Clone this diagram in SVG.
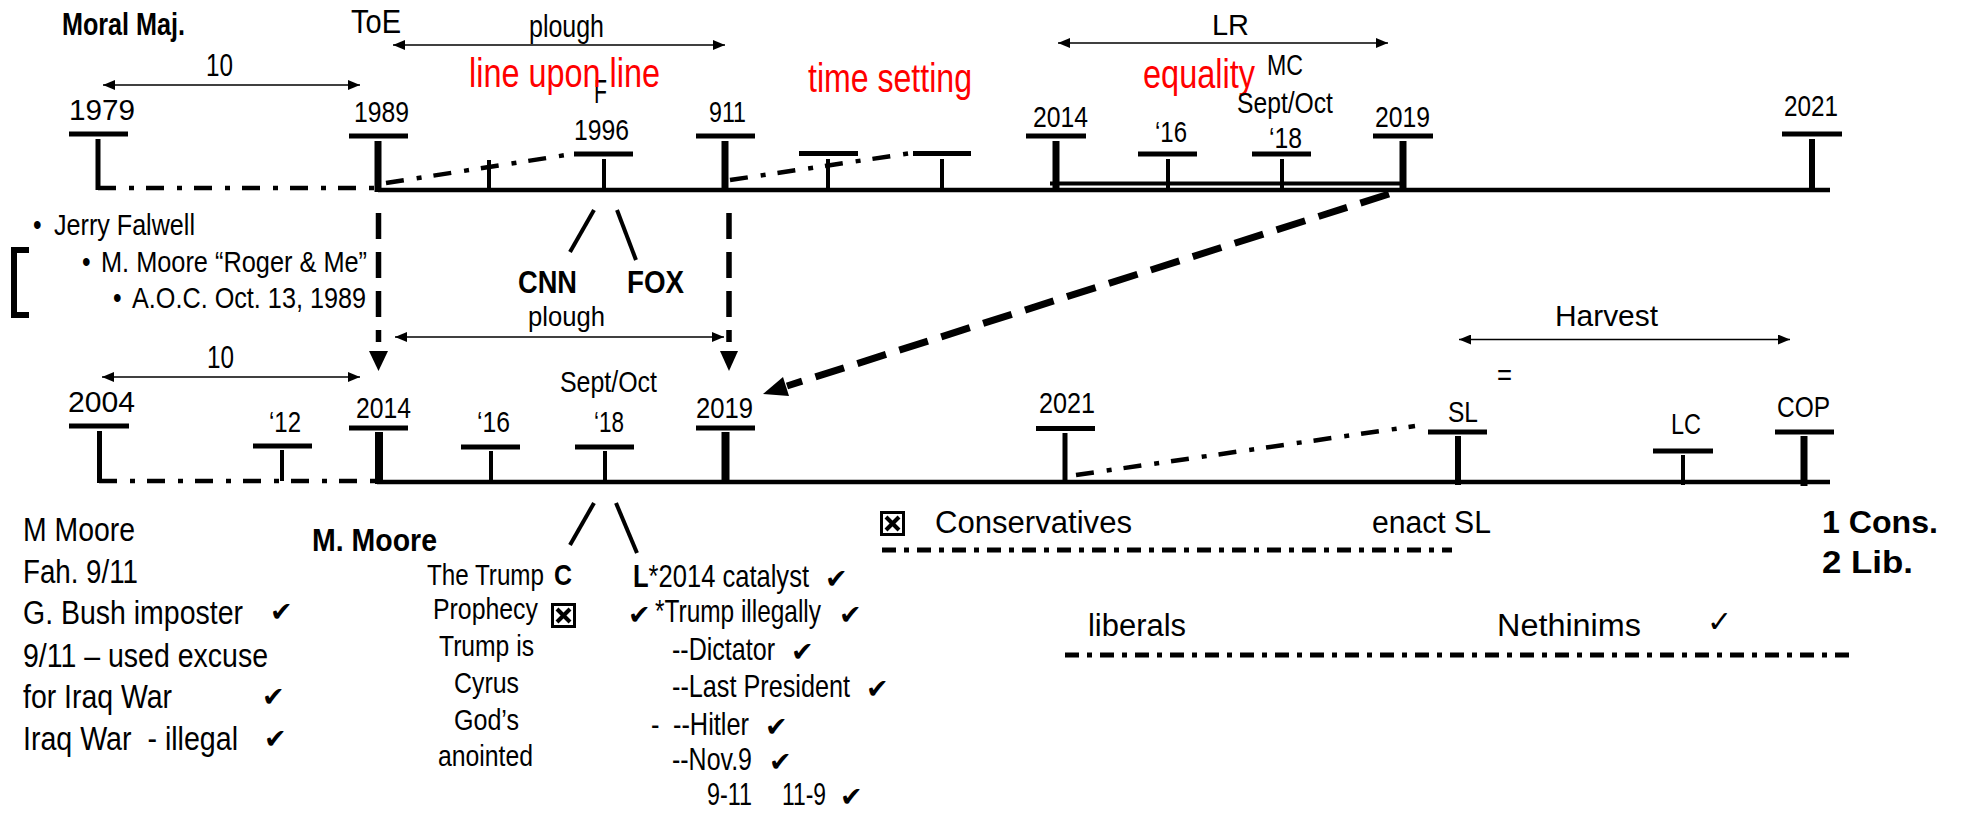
<svg xmlns="http://www.w3.org/2000/svg" width="1961" height="814" viewBox="0 0 1961 814">
<defs>
<style>
text{font-family:"Liberation Sans Narrow","Liberation Sans",Arial,sans-serif;fill:#000;font-size:24.6px}
.w{font-family:"Liberation Sans",Arial,sans-serif;font-size:30px}
.b{font-weight:bold}
.red{fill:#ff0000;font-size:32.8px}
.big{font-size:27.9px}
.lc{font-size:25.4px}
.bar{stroke:#000;stroke-width:5}
.v4{stroke:#000;stroke-width:4}
.v5{stroke:#000;stroke-width:5}
.v6{stroke:#000;stroke-width:6}
.v7{stroke:#000;stroke-width:7}
.v8{stroke:#000;stroke-width:8}
.tl{stroke:#000;stroke-width:4.5}
.dd{stroke:#000;stroke-width:4.5;stroke-dasharray:18 13 5 12;fill:none}
.dd2{stroke:#000;stroke-width:5;stroke-dasharray:14 8 5 8;fill:none}
.arr{stroke:#000;stroke-width:1.3;marker-start:url(#ah);marker-end:url(#ah)}
.dash{stroke:#000;stroke-width:5.5;stroke-dasharray:26 13}
.bd{stroke:#000;stroke-width:7;stroke-dasharray:30 14}
.sl{stroke:#000;stroke-width:4}
.chk{font-family:"DejaVu Sans",sans-serif;font-size:27px;font-weight:normal}
.xb{fill:none;stroke:#000;stroke-width:3}
.xx{stroke:#000;stroke-width:4}
</style>
<marker id="ah" viewBox="0 0 12 10" refX="12" refY="5" markerWidth="12" markerHeight="10" markerUnits="userSpaceOnUse" orient="auto-start-reverse"><path d="M0,0 L12,5 L0,10 z" fill="#000"/></marker>
</defs>
<rect width="1961" height="814" fill="#fff"/>

<g id="top-labels">
<text x="62" y="35" style="font-size:26.2px" class="b" transform="matrix(1 0 0 1.22 0 -7.7)" textLength="123" lengthAdjust="spacingAndGlyphs">Moral Maj.</text>
<text x="351" y="33" style="font-size:27.9px" transform="matrix(1 0 0 1.22 0 -7.26)" textLength="50" lengthAdjust="spacingAndGlyphs">ToE</text>
<text x="529" y="37" style="font-size:25.4px" transform="matrix(1 0 0 1.22 0 -8.14)" textLength="75" lengthAdjust="spacingAndGlyphs">plough</text>
<text x="206" y="76" style="font-size:25.4px" transform="matrix(1 0 0 1.22 0 -16.72)" textLength="27" lengthAdjust="spacingAndGlyphs">10</text>
<text x="1212" y="35" class="w" style="font-size:29px" textLength="37" lengthAdjust="spacingAndGlyphs">LR</text>
</g>

<g id="n1996">
<text x="594" y="103" style="font-size:27.9px" transform="matrix(1 0 0 1.22 0 -22.66)" textLength="13" lengthAdjust="spacingAndGlyphs">F</text>
<line class="bar" x1="574" y1="154" x2="633" y2="154"/>
<line class="v4" x1="604" y1="159" x2="604" y2="190"/>
<text x="574" y="140" transform="matrix(1 0 0 1.22 0 -30.8)" textLength="55" lengthAdjust="spacingAndGlyphs">1996</text>
</g>

<g id="red-labels">
<text x="469" y="87" class="red" transform="matrix(1 0 0 1.22 0 -19.14)" textLength="191" lengthAdjust="spacingAndGlyphs">line upon line</text>
<text x="808" y="92" class="red" transform="matrix(1 0 0 1.22 0 -20.24)" textLength="164" lengthAdjust="spacingAndGlyphs">time setting</text>
<text x="1143" y="88" class="red" transform="matrix(1 0 0 1.22 0 -19.36)" textLength="112" lengthAdjust="spacingAndGlyphs">equality</text>
</g>

<g id="n1979">
<line class="bar" x1="69" y1="134" x2="128" y2="134"/>
<line class="v5" x1="98" y1="139" x2="98" y2="190"/>
<text x="69" y="120" class="w" style="font-size:29px" textLength="66" lengthAdjust="spacingAndGlyphs">1979</text>
</g>
<g id="n1989">
<line class="bar" x1="349" y1="136" x2="408" y2="136"/>
<line class="v7" x1="378" y1="141" x2="378" y2="192"/>
<text x="354" y="122" transform="matrix(1 0 0 1.22 0 -26.84)" textLength="55" lengthAdjust="spacingAndGlyphs">1989</text>
</g>
<g id="tick1"><line class="v4" x1="489" y1="160" x2="489" y2="190"/></g>
<g id="n911">
<line class="bar" x1="696" y1="136" x2="755" y2="136"/>
<line class="v7" x1="725" y1="141" x2="725" y2="190"/>
<text x="709" y="122" transform="matrix(1 0 0 1.22 0 -26.84)" textLength="37" lengthAdjust="spacingAndGlyphs">911</text>
</g>
<g id="nA">
<line class="bar" x1="799" y1="153.5" x2="858" y2="153.5"/>
<line class="v4" x1="828" y1="159" x2="828" y2="190"/>
</g>
<g id="nB">
<line class="bar" x1="913" y1="153.5" x2="971" y2="153.5"/>
<line class="v4" x1="942" y1="159" x2="942" y2="190"/>
</g>
<g id="n2014t">
<line class="bar" x1="1026" y1="136" x2="1086" y2="136"/>
<line class="v7" x1="1056" y1="141" x2="1056" y2="190"/>
<text x="1033" y="127" transform="matrix(1 0 0 1.22 0 -27.94)" textLength="55" lengthAdjust="spacingAndGlyphs">2014</text>
</g>
<g id="n16t">
<line class="bar" x1="1138" y1="154" x2="1197" y2="154"/>
<line class="v4" x1="1168" y1="159" x2="1168" y2="190"/>
<text x="1155" y="142" transform="matrix(1 0 0 1.22 0 -31.24)" textLength="32" lengthAdjust="spacingAndGlyphs">‘16</text>
</g>
<g id="n18t">
<line class="bar" x1="1252" y1="154" x2="1311" y2="154"/>
<line class="v4" x1="1282" y1="159" x2="1282" y2="190"/>
<text x="1269" y="148" transform="matrix(1 0 0 1.22 0 -32.56)" textLength="33" lengthAdjust="spacingAndGlyphs">‘18</text>
<text x="1237" y="113" transform="matrix(1 0 0 1.22 0 -24.86)" textLength="96" lengthAdjust="spacingAndGlyphs">Sept/Oct</text>
<text x="1267" y="75" transform="matrix(1 0 0 1.22 0 -16.5)" textLength="36" lengthAdjust="spacingAndGlyphs">MC</text>
</g>
<g id="n2019t">
<line class="bar" x1="1373" y1="136" x2="1433" y2="136"/>
<line class="v7" x1="1403" y1="141" x2="1403" y2="190"/>
<text x="1375" y="127" transform="matrix(1 0 0 1.22 0 -27.94)" textLength="55" lengthAdjust="spacingAndGlyphs">2019</text>
</g>
<g id="n2021t">
<line class="bar" x1="1782" y1="134" x2="1842" y2="134"/>
<line class="v6" x1="1812" y1="139" x2="1812" y2="190"/>
<text x="1784" y="116" transform="matrix(1 0 0 1.22 0 -25.52)" textLength="54" lengthAdjust="spacingAndGlyphs">2021</text>
</g>

<g id="bullets">
<text x="33" y="235" transform="matrix(1 0 0 1.22 0 -51.7)">•</text>
<text x="54" y="235" transform="matrix(1 0 0 1.22 0 -51.7)" textLength="141" lengthAdjust="spacingAndGlyphs">Jerry Falwell</text>
<text x="82" y="272" transform="matrix(1 0 0 1.22 0 -59.84)">•</text>
<text x="101" y="272" transform="matrix(1 0 0 1.22 0 -59.84)" textLength="266" lengthAdjust="spacingAndGlyphs">M. Moore “Roger &amp; Me”</text>
<text x="113" y="308" transform="matrix(1 0 0 1.22 0 -67.76)">•</text>
<text x="132" y="308" transform="matrix(1 0 0 1.22 0 -67.76)" textLength="234" lengthAdjust="spacingAndGlyphs">A.O.C. Oct. 13, 1989</text>
<path d="M29,250 L14,250 L14,315 L29,315" fill="none" stroke="#000" stroke-width="6"/>
</g>

<g id="media">
<text x="518" y="293" style="font-size:26.2px" class="b" transform="matrix(1 0 0 1.22 0 -64.46)" textLength="59" lengthAdjust="spacingAndGlyphs">CNN</text>
<text x="627" y="293" style="font-size:26.2px" class="b" transform="matrix(1 0 0 1.22 0 -64.46)" textLength="57" lengthAdjust="spacingAndGlyphs">FOX</text>
</g>

<g id="mid-labels">
<text x="528" y="326" style="font-size:23.4px" transform="matrix(1 0 0 1.22 0 -71.72)" textLength="77" lengthAdjust="spacingAndGlyphs">plough</text>
<text x="207" y="368" style="font-size:25.4px" transform="matrix(1 0 0 1.22 0 -80.96)" textLength="27" lengthAdjust="spacingAndGlyphs">10</text>
<text x="1555" y="326" class="w" style="font-size:29px" textLength="103" lengthAdjust="spacingAndGlyphs">Harvest</text>
<text x="1497" y="385" transform="matrix(1 0 0 1.22 0 -84.7)" textLength="15" lengthAdjust="spacingAndGlyphs">=</text>
</g>

<g id="n2004">
<line class="bar" x1="69" y1="426" x2="129" y2="426"/>
<line class="v5" x1="99.5" y1="431" x2="99.5" y2="483"/>
<text x="68" y="412" class="w" style="font-size:29px" textLength="67" lengthAdjust="spacingAndGlyphs">2004</text>
</g>
<g id="n12">
<line class="bar" x1="253" y1="446" x2="312" y2="446"/>
<line class="v4" x1="282" y1="450" x2="282" y2="481"/>
<text x="269" y="432" transform="matrix(1 0 0 1.22 0 -95.04)" textLength="32" lengthAdjust="spacingAndGlyphs">‘12</text>
</g>
<g id="n2014b">
<line class="bar" x1="349" y1="428" x2="408" y2="428"/>
<line class="v8" x1="379" y1="432" x2="379" y2="484"/>
<text x="356" y="418" transform="matrix(1 0 0 1.22 0 -91.96)" textLength="55" lengthAdjust="spacingAndGlyphs">2014</text>
</g>
<g id="n16b">
<line class="bar" x1="461" y1="447" x2="520" y2="447"/>
<line class="v4" x1="491" y1="451" x2="491" y2="482"/>
<text x="477" y="432" transform="matrix(1 0 0 1.22 0 -95.04)" textLength="33" lengthAdjust="spacingAndGlyphs">‘16</text>
</g>
<g id="n18b">
<line class="bar" x1="575" y1="447" x2="634" y2="447"/>
<line class="v4" x1="605" y1="451" x2="605" y2="482"/>
<text x="594" y="432" transform="matrix(1 0 0 1.22 0 -95.04)" textLength="30" lengthAdjust="spacingAndGlyphs">‘18</text>
<text x="560" y="392" transform="matrix(1 0 0 1.22 0 -86.24)" textLength="97" lengthAdjust="spacingAndGlyphs">Sept/Oct</text>
</g>
<g id="n2019b">
<line class="bar" x1="696" y1="428" x2="755" y2="428"/>
<line class="v8" x1="725.5" y1="432" x2="725.5" y2="484"/>
<text x="696" y="418" transform="matrix(1 0 0 1.22 0 -91.96)" textLength="57" lengthAdjust="spacingAndGlyphs">2019</text>
</g>
<g id="n2021b">
<line class="bar" x1="1036" y1="428.5" x2="1095" y2="428.5"/>
<line class="v5" x1="1065" y1="433" x2="1065" y2="482"/>
<text x="1039" y="413" transform="matrix(1 0 0 1.22 0 -90.86)" textLength="56" lengthAdjust="spacingAndGlyphs">2021</text>
</g>
<g id="nSL">
<line class="bar" x1="1428" y1="432" x2="1487" y2="432"/>
<line class="v6" x1="1458" y1="436" x2="1458" y2="485"/>
<text x="1448" y="422" transform="matrix(1 0 0 1.22 0 -92.84)" textLength="30" lengthAdjust="spacingAndGlyphs">SL</text>
</g>
<g id="nLC">
<line class="bar" x1="1653" y1="451" x2="1713" y2="451"/>
<line class="v4" x1="1683" y1="455" x2="1683" y2="485"/>
<text x="1671" y="434" transform="matrix(1 0 0 1.22 0 -95.48)" textLength="30" lengthAdjust="spacingAndGlyphs">LC</text>
</g>
<g id="nCOP">
<line class="bar" x1="1775" y1="432" x2="1834" y2="432"/>
<line class="v7" x1="1804" y1="436" x2="1804" y2="486"/>
<text x="1777" y="417" transform="matrix(1 0 0 1.22 0 -91.74)" textLength="53" lengthAdjust="spacingAndGlyphs">COP</text>
</g>

<g id="left-notes">
<text x="23" y="541" class="big" transform="matrix(1 0 0 1.22 0 -119.02)" textLength="112" lengthAdjust="spacingAndGlyphs">M Moore</text>
<text x="23" y="583" class="big" transform="matrix(1 0 0 1.22 0 -128.26)" textLength="115" lengthAdjust="spacingAndGlyphs">Fah. 9/11</text>
<text x="23" y="624" class="big" transform="matrix(1 0 0 1.22 0 -137.28)" textLength="220" lengthAdjust="spacingAndGlyphs">G. Bush imposter</text>
<text x="23" y="667" class="big" transform="matrix(1 0 0 1.22 0 -146.74)" textLength="245" lengthAdjust="spacingAndGlyphs">9/11 – used excuse</text>
<text x="23" y="708" class="big" transform="matrix(1 0 0 1.22 0 -155.76)" textLength="149" lengthAdjust="spacingAndGlyphs">for Iraq War</text>
<text x="23" y="750" class="big" xml:space="preserve" transform="matrix(1 0 0 1.22 0 -165)" textLength="215" lengthAdjust="spacingAndGlyphs">Iraq War  - illegal</text>
<text x="270" y="621" class="chk">✔</text>
<text x="262" y="706" class="chk">✔</text>
<text x="264" y="748" class="chk">✔</text>
</g>

<g id="mmoore">
<text x="312" y="551" style="font-size:26.2px" class="b" transform="matrix(1 0 0 1.22 0 -121.22)" textLength="125" lengthAdjust="spacingAndGlyphs">M. Moore</text>
</g>

<g id="c-column">
<text x="427" y="585" transform="matrix(1 0 0 1.22 0 -128.7)" textLength="117" lengthAdjust="spacingAndGlyphs">The Trump</text>
<text x="554" y="585" class="b" transform="matrix(1 0 0 1.22 0 -128.7)" textLength="18" lengthAdjust="spacingAndGlyphs">C</text>
<text x="433" y="619" transform="matrix(1 0 0 1.22 0 -136.18)" textLength="105" lengthAdjust="spacingAndGlyphs">Prophecy</text>
<rect class="xb" x="552.5" y="604.5" width="22" height="22"/>
<line class="xx" x1="557" y1="609" x2="570" y2="622"/>
<line class="xx" x1="570" y1="609" x2="557" y2="622"/>
<text x="439" y="656" transform="matrix(1 0 0 1.22 0 -144.32)" textLength="95" lengthAdjust="spacingAndGlyphs">Trump is</text>
<text x="454" y="693" transform="matrix(1 0 0 1.22 0 -152.46)" textLength="65" lengthAdjust="spacingAndGlyphs">Cyrus</text>
<text x="454" y="730" transform="matrix(1 0 0 1.22 0 -160.6)" textLength="65" lengthAdjust="spacingAndGlyphs">God’s</text>
<text x="438" y="766" transform="matrix(1 0 0 1.22 0 -168.52)" textLength="95" lengthAdjust="spacingAndGlyphs">anointed</text>
</g>

<g id="l-column">
<text x="633" y="587" class="lc" transform="matrix(1 0 0 1.22 0 -129.14)" textLength="176" lengthAdjust="spacingAndGlyphs"><tspan class="b">L</tspan>*2014 catalyst</text>
<text x="825" y="588" class="chk">✔</text>
<text x="628" y="624" class="chk">✔</text>
<text x="655" y="622" class="lc" transform="matrix(1 0 0 1.22 0 -136.84)" textLength="166" lengthAdjust="spacingAndGlyphs">*Trump illegally</text>
<text x="839" y="624" class="chk">✔</text>
<text x="672" y="660" class="lc" transform="matrix(1 0 0 1.22 0 -145.2)" textLength="103" lengthAdjust="spacingAndGlyphs">--Dictator</text>
<text x="791" y="661" class="chk">✔</text>
<text x="672" y="697" class="lc" transform="matrix(1 0 0 1.22 0 -153.34)" textLength="178" lengthAdjust="spacingAndGlyphs">--Last President</text>
<text x="866" y="698" class="chk">✔</text>
<text x="651" y="735" class="lc" transform="matrix(1 0 0 1.22 0 -161.7)">-</text>
<text x="673" y="735" class="lc" transform="matrix(1 0 0 1.22 0 -161.7)" textLength="76" lengthAdjust="spacingAndGlyphs">--Hitler</text>
<text x="765" y="736" class="chk">✔</text>
<text x="672" y="770" class="lc" transform="matrix(1 0 0 1.22 0 -169.4)" textLength="80" lengthAdjust="spacingAndGlyphs">--Nov.9</text>
<text x="769" y="771" class="chk">✔</text>
<text x="707" y="805" class="lc" transform="matrix(1 0 0 1.22 0 -177.1)" textLength="45" lengthAdjust="spacingAndGlyphs">9-11</text>
<text x="782" y="805" class="lc" transform="matrix(1 0 0 1.22 0 -177.1)" textLength="44" lengthAdjust="spacingAndGlyphs">11-9</text>
<text x="840" y="806" class="chk">✔</text>
</g>

<g id="right-notes">
<rect class="xb" x="881.5" y="512.5" width="22" height="22"/>
<line class="xx" x1="886" y1="517" x2="899" y2="530"/>
<line class="xx" x1="899" y1="517" x2="886" y2="530"/>
<text x="935" y="533" class="w" style="font-size:31px" textLength="197" lengthAdjust="spacingAndGlyphs">Conservatives</text>
<text x="1372" y="533" class="w" style="font-size:31px" textLength="119" lengthAdjust="spacingAndGlyphs">enact SL</text>
<text x="1822" y="533" class="w b" style="font-size:31px" textLength="116" lengthAdjust="spacingAndGlyphs">1 Cons.</text>
<text x="1822" y="573" class="w b" style="font-size:31px" textLength="91" lengthAdjust="spacingAndGlyphs">2 Lib.</text>
<text x="1088" y="636" class="w" style="font-size:31px" textLength="98" lengthAdjust="spacingAndGlyphs">liberals</text>
<text x="1497" y="636" class="w" style="font-size:31px" textLength="144" lengthAdjust="spacingAndGlyphs">Nethinims</text>
<text x="1707" y="632" class="chk" style="font-size:30px">✓</text>
</g>

<g id="connectors">
<line class="tl" x1="378" y1="190" x2="1830" y2="190"/>
<line class="v4" x1="1050" y1="183.5" x2="1405" y2="183.5"/>
<line class="tl" x1="377" y1="482" x2="1830" y2="482"/>
<line class="dd" x1="98" y1="188" x2="378" y2="188"/>
<line class="dd" x1="386" y1="183" x2="566" y2="155"/>
<line class="dd" x1="730" y1="180" x2="912" y2="153"/>
<line class="dd" x1="99" y1="481" x2="378" y2="481"/>
<line class="dd" x1="1076" y1="475" x2="1415" y2="426"/>
<line class="dd2" x1="882" y1="550" x2="1452" y2="550"/>
<line class="dd2" x1="1065" y1="655" x2="1850" y2="655"/>
<line class="arr" x1="103" y1="85" x2="360" y2="85"/>
<line class="arr" x1="393" y1="45" x2="725" y2="45"/>
<line class="arr" x1="1058" y1="43" x2="1388" y2="43"/>
<line class="arr" x1="395" y1="337" x2="724" y2="337"/>
<line class="arr" x1="102" y1="377" x2="360" y2="377"/>
<line class="arr" x1="1459" y1="339.5" x2="1790" y2="339.5"/>
<line class="dash" x1="378.5" y1="213" x2="378.5" y2="342"/>
<polygon points="369,351 388,351 378.5,371" fill="#000"/>
<line class="dash" x1="729" y1="213" x2="729" y2="342"/>
<polygon points="720,351 738,351 729,371" fill="#000"/>
<line class="bd" x1="1389" y1="194" x2="787" y2="386"/>
<polygon points="763,394 789,396 783,377" fill="#000"/>
<line class="sl" x1="570" y1="252" x2="594" y2="210"/>
<line class="sl" x1="617" y1="210" x2="636" y2="260"/>
<line class="sl" x1="570" y1="545" x2="594" y2="503"/>
<line class="sl" x1="616" y1="503" x2="637" y2="553"/>
</g>
</svg>
